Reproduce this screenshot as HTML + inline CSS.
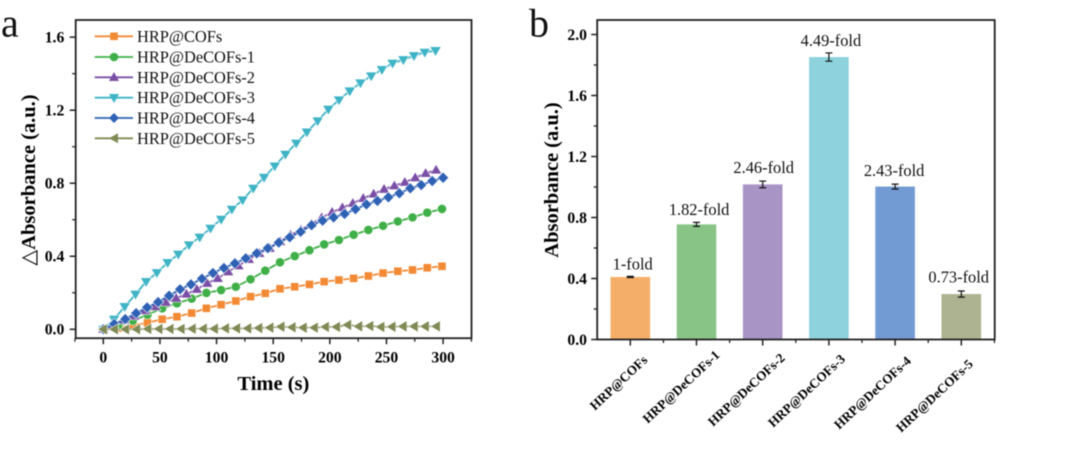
<!DOCTYPE html>
<html lang="en">
<head>
<meta charset="utf-8">
<title>Absorbance kinetics and fold change of HRP@COFs samples</title>
<style>
  html, body { margin: 0; padding: 0; background: #fff; }
  body { width: 1080px; height: 449px; overflow: hidden; }
  svg { display: block; filter: blur(0.45px); font-family: "Liberation Serif", "DejaVu Serif", serif; }
  .tick { font-size: 15.7px; font-weight: bold; fill: #000; }
  .axis-title { font-size: 20.5px; font-weight: bold; fill: #000; }
  .legend-text { font-size: 16.4px; fill: #111; }
  .fold { font-size: 16.4px; fill: #111; text-anchor: middle; }
  .cat { font-size: 13.2px; font-weight: bold; fill: #000; text-anchor: end; }
  .panel { font-size: 40px; fill: #111; }
</style>
</head>
<body>
<svg id="fig" width="1080" height="449" viewBox="0 0 1080 449" xmlns="http://www.w3.org/2000/svg">
  <rect width="1080" height="449" fill="#fff"/>

  <text class="panel" x="1" y="36.7">a</text>
  <text class="panel" x="529" y="36.5">b</text>

  <g id="chartA">
    <text class="axis-title" transform="translate(35,180) rotate(-90)" text-anchor="middle">△Absorbance (a.u.)</text>
    <text class="axis-title" x="273.4" y="390" text-anchor="middle">Time (s)</text>
    <g id="aGrid"></g>
    <g id="aMarks"></g>
    <g id="aLegend">
      <g>
        <line x1="94.7" x2="133" y1="36.3" y2="36.3" stroke="#F28A35" stroke-width="1.8"/>
        <rect x="110.2" y="32.5" width="7.6" height="7.6" fill="#F28A35"/>
        <text class="legend-text" x="137" y="41.8">HRP@COFs</text>
      </g>
      <g>
        <line x1="94.7" x2="133" y1="57" y2="57" stroke="#3FAF47" stroke-width="1.8"/>
        <circle cx="114" cy="57" r="4.3" fill="#3FAF47"/>
        <text class="legend-text" x="137" y="62.5">HRP@DeCOFs-1</text>
      </g>
      <g>
        <line x1="94.7" x2="133" y1="77.3" y2="77.3" stroke="#7B4FA6" stroke-width="1.8"/>
        <polygon points="114,72 119,81 109,81" fill="#7B4FA6"/>
        <text class="legend-text" x="137" y="82.8">HRP@DeCOFs-2</text>
      </g>
      <g>
        <line x1="94.7" x2="133" y1="97.7" y2="97.7" stroke="#3FB4C6" stroke-width="1.8"/>
        <polygon points="114,103 119,94 109,94" fill="#3FB4C6"/>
        <text class="legend-text" x="137" y="103.2">HRP@DeCOFs-3</text>
      </g>
      <g>
        <line x1="94.7" x2="133" y1="118" y2="118" stroke="#2F62B5" stroke-width="1.8"/>
        <polygon points="114,113 119,118 114,123 109,118" fill="#2F62B5"/>
        <text class="legend-text" x="137" y="123.5">HRP@DeCOFs-4</text>
      </g>
      <g>
        <line x1="94.7" x2="133" y1="138.3" y2="138.3" stroke="#7F8A55" stroke-width="1.8"/>
        <polygon points="109,138.3 118,133.3 118,143.3" fill="#7F8A55"/>
        <text class="legend-text" x="137" y="143.8">HRP@DeCOFs-5</text>
      </g>
    </g>
  </g>

  <g id="chartB">
    <text class="axis-title" transform="translate(558,180) rotate(-90)" text-anchor="middle">Absorbance (a.u.)</text>
    <g id="bMarks"></g>
    <g id="bGrid"></g>
  </g>
</svg>

<script>
// ---------- Chart a data ----------
const timeOrange = [0,13,26,39,52,65,78,91,104,117,130,143,156,169,182,195,208,221,234,247,260,273,286,299];
const valuesOrange = [0,.007,.022,.036,.055,.069,.089,.115,.135,.155,.179,.197,.222,.233,.246,.261,.270,.279,.292,.308,.318,.325,.337,.345];
const timeGreen = [0,13,26,39,52,65,78,91,104,117,130,143,156,169,182,195,208,221,234,247,260,273,286,299];
const valuesGreen = [0,.018,.047,.080,.115,.142,.168,.199,.215,.233,.274,.321,.367,.401,.433,.465,.489,.518,.544,.567,.591,.613,.639,.659];
const timePurple = [0,9.2,18.4,27.5,36.7,45.9,55.1,64.3,73.4,82.6,91.8,101,110.2,119.3,128.5,137.7,146.9,156.1,165.2,174.4,183.6,192.8,202,211.1,220.3,229.5,238.7,247.9,257,266.2,275.4,284.6,293.8];
const valuesPurple = [0,.025,.051,.073,.102,.124,.148,.170,.193,.219,.252,.279,.315,.348,.383,.416,.444,.480,.516,.544,.577,.611,.641,.666,.690,.717,.741,.767,.786,.805,.830,.854,.872];
const timeTeal = [0,9.5,18.9,28.4,37.8,47.3,56.8,66.2,75.7,85.1,94.6,104.1,113.5,123,132.4,141.9,151.4,160.8,170.3,179.7,189.2,198.7,208.1,217.6,227,236.5,246,255.4,264.9,274.3,283.8,293.3];
const valuesTeal = [0,.055,.124,.192,.261,.310,.365,.411,.462,.504,.553,.602,.657,.708,.772,.832,.894,.958,1.019,1.080,1.141,1.205,1.256,1.305,1.349,1.387,1.422,1.457,1.476,1.498,1.517,1.526];
const timeBlue = [0,9.7,19.4,29,38.7,48.4,58.1,67.8,77.4,87.1,96.8,106.5,116.2,125.8,135.5,145.2,154.9,164.6,174.2,183.9,193.6,203.3,213,222.6,232.3,242,251.7,261.4,271,280.7,290.4,300];
const valuesBlue = [0,.029,.056,.088,.120,.149,.184,.219,.246,.277,.308,.336,.361,.389,.416,.444,.475,.504,.534,.570,.595,.613,.632,.658,.684,.703,.723,.745,.772,.790,.812,.830];
const timeOlive = [0,9.8,19.6,29.4,39.2,49,58.8,68.6,78.4,88.2,98,107.8,117.6,127.4,137.2,147,156.8,166.6,176.4,186.2,196,205.8,215.6,225.4,235.2,245,254.8,264.6,274.4,284.2,294];
const valuesOlive = [0,0,0,0,.002,.002,.002,.002,.003,.003,.003,.005,.005,.005,.007,.009,.014,.011,.009,.009,.013,.013,.024,.016,.018,.013,.014,.016,.016,.016,.016];
const xTicksA = [0,50,100,150,200,250,300];
const yTicksA = [0,0.4,0.8,1.2,1.6];

// ---------- Chart b data ----------
const categoriesB = ['HRP@COFs','HRP@DeCOFs-1','HRP@DeCOFs-2','HRP@DeCOFs-3','HRP@DeCOFs-4','HRP@DeCOFs-5'];
const barValues = [0.41,0.755,1.017,1.852,1.003,0.298];
const barErrors = [0.004,0.013,0.022,0.027,0.016,0.02];
const foldLabels = ['1-fold','1.82-fold','2.46-fold','4.49-fold','2.43-fold','0.73-fold'];
const yTicksB = [0,0.4,0.8,1.2,1.6,2.0];

// ---------- Layout (not data) ----------
const NS = 'http://www.w3.org/2000/svg';
const barColors = ['#F4AE69','#89C487','#A994C6','#8DD2DC','#729BD3','#ADB291'];
const foldNudgeX = [2.4,2.6,1,2,-1,-2.6];
const foldGap = [7.3,9.6,11.3,11.3,10.7,11.7];
const catNudgeX = [18,24,23,17,16.7,12.5];
const catY = [361,356,359,360,362,365];

const xA = t => 103.3 + t * 1.1327;
const yA = v => 329.3 - v * 182.6;
const xB = i => 630.3 + i * 66.2;
const yB = v => 339.5 - v * 152.5;

function mk(tag, attrs, parent) {
  const el = document.createElementNS(NS, tag);
  for (const k in attrs) el.setAttribute(k, attrs[k]);
  parent.appendChild(el);
  return el;
}

// ---------- Chart a axes ----------
const aGrid = document.getElementById('aGrid');
const AL = 75.7, AR = 471.5, AT = 20, AB = 338.2;
const frameA = mk('rect', {x: AL, y: AT, width: AR - AL, height: AB - AT, fill: 'none', stroke: '#222', 'stroke-width': 1.8}, aGrid);


for (let i = 0; i < xTicksA.length; i++) {
  const t = xTicksA[i];
  const tick = mk('line', {x1: xA(t), x2: xA(t), y1: AB, y2: AB + 6, stroke: '#222', 'stroke-width': 1.5}, aGrid);
  
  
  const minor = mk('line', {x1: xA(t - 25), x2: xA(t - 25), y1: AB, y2: AB + 3.5, stroke: '#222', 'stroke-width': 1.3}, aGrid);
  
  
  const label = mk('text', {x: xA(t), y: 362.7, class: 'tick', 'text-anchor': 'middle'}, aGrid);
  label.textContent = String(t);
  
  
}
const lastMinorA = mk('line', {x1: xA(325), x2: xA(325), y1: AB, y2: AB + 3.5, stroke: '#222', 'stroke-width': 1.3}, aGrid);


for (let i = 0; i < yTicksA.length; i++) {
  const v = yTicksA[i];
  const tick = mk('line', {x1: AL - 6, x2: AL, y1: yA(v), y2: yA(v), stroke: '#222', 'stroke-width': 1.5}, aGrid);
  
  
  if (yA(v + 0.2) > AT) {
    const minor = mk('line', {x1: AL - 3.5, x2: AL, y1: yA(v + 0.2), y2: yA(v + 0.2), stroke: '#222', 'stroke-width': 1.3}, aGrid);
    
    
  }
  const label = mk('text', {x: 64.3, y: yA(v) + 5.3, class: 'tick', 'text-anchor': 'end'}, aGrid);
  label.textContent = v.toFixed(1);
  
  
}

// ---------- Chart a series ----------
function markerShape(kind, cx, cy, color, parent) {
  const common = {fill: color, stroke: '#fff', 'stroke-width': 1.1, 'paint-order': 'stroke'};
  if (kind === 'square') return mk('rect', Object.assign({x: cx - 3.8, y: cy - 3.8, width: 7.6, height: 7.6}, common), parent);
  if (kind === 'circle') return mk('circle', Object.assign({cx: cx, cy: cy, r: 4.3}, common), parent);
  const r = 5.2;
  let pts;
  if (kind === 'up') pts = [[cx, cy - r], [cx + r, cy + 3.6], [cx - r, cy + 3.6]];
  if (kind === 'down') pts = [[cx, cy + r], [cx + r, cy - 3.6], [cx - r, cy - 3.6]];
  if (kind === 'diamond') pts = [[cx, cy - r], [cx + r, cy], [cx, cy + r], [cx - r, cy]];
  if (kind === 'left') pts = [[cx - r, cy], [cx + 3.6, cy - r], [cx + 3.6, cy + r]];
  return mk('polygon', Object.assign({points: pts.map(p => p.join(',')).join(' ')}, common), parent);
}

const aMarks = document.getElementById('aMarks');
function drawSeries(name, times, values, color, kind) {
  const g = mk('g', {}, aMarks);
  
  
  const line = mk('polyline', {
    points: times.map((t, i) => xA(t).toFixed(2) + ',' + yA(values[i]).toFixed(2)).join(' '),
    fill: 'none', stroke: color, 'stroke-width': 1.8
  }, g);
  
  
  for (let i = 0; i < times.length; i++) {
    const m = markerShape(kind, xA(times[i]), yA(values[i]), color, g);
    
    
  }
}
drawSeries('series-hrp-cofs', timeOrange, valuesOrange, '#F28A35', 'square');
drawSeries('series-hrp-decofs-1', timeGreen, valuesGreen, '#3FAF47', 'circle');
drawSeries('series-hrp-decofs-2', timePurple, valuesPurple, '#7B4FA6', 'up');
drawSeries('series-hrp-decofs-3', timeTeal, valuesTeal, '#3FB4C6', 'down');
drawSeries('series-hrp-decofs-4', timeBlue, valuesBlue, '#2F62B5', 'diamond');
drawSeries('series-hrp-decofs-5', timeOlive, valuesOlive, '#7F8A55', 'left');

// ---------- Chart b bars ----------
const bMarks = document.getElementById('bMarks');
for (let i = 0; i < barValues.length; i++) {
  const cx = xB(i);
  const top = yB(barValues[i]);
  const bar = mk('rect', {x: cx - 19.8, y: top, width: 39.6, height: yB(0) - top, fill: barColors[i]}, bMarks);
  
  

  const hi = yB(barValues[i] + barErrors[i]);
  const lo = yB(barValues[i] - barErrors[i]);
  const err = mk('path', {
    d: 'M' + (cx - 3.5) + ' ' + hi + 'H' + (cx + 3.5) + 'M' + cx + ' ' + hi + 'V' + lo + 'M' + (cx - 3.5) + ' ' + lo + 'H' + (cx + 3.5),
    fill: 'none', stroke: '#111', 'stroke-width': 1.2
  }, bMarks);
  
  

  const fold = mk('text', {x: cx + foldNudgeX[i], y: top - foldGap[i], class: 'fold'}, bMarks);
  fold.textContent = foldLabels[i];
  
  
}

// ---------- Chart b axes ----------
const bGrid = document.getElementById('bGrid');
const BL = 597.2, BR = 994.7, BT = 20, BB = 339.5;
const frameB = mk('rect', {x: BL, y: BT, width: BR - BL, height: BB - BT, fill: 'none', stroke: '#222', 'stroke-width': 1.8}, bGrid);


for (let i = 0; i < yTicksB.length; i++) {
  const v = yTicksB[i];
  const tick = mk('line', {x1: BL - 6, x2: BL, y1: yB(v), y2: yB(v), stroke: '#222', 'stroke-width': 1.5}, bGrid);
  
  
  if (v < 2) {
    const minor = mk('line', {x1: BL - 3.5, x2: BL, y1: yB(v + 0.2), y2: yB(v + 0.2), stroke: '#222', 'stroke-width': 1.3}, bGrid);
    
    
  }
  const label = mk('text', {x: 587, y: yB(v) + 5.3, class: 'tick', 'text-anchor': 'end'}, bGrid);
  label.textContent = v.toFixed(1);
  
  
}
for (let i = 0; i < categoriesB.length; i++) {
  const cx = xB(i);
  const tick = mk('line', {x1: cx, x2: cx, y1: BB, y2: BB + 6, stroke: '#222', 'stroke-width': 1.5}, bGrid);
  
  
  const minor = mk('line', {x1: cx + 33.1, x2: cx + 33.1, y1: BB, y2: BB + 3.5, stroke: '#222', 'stroke-width': 1.3}, bGrid);
  
  
  const label = mk('text', {transform: 'translate(' + (cx + catNudgeX[i]) + ',' + catY[i] + ') rotate(-43)', class: 'cat'}, bGrid);
  label.textContent = categoriesB[i];
  
  
}
</script>
</body>
</html>
